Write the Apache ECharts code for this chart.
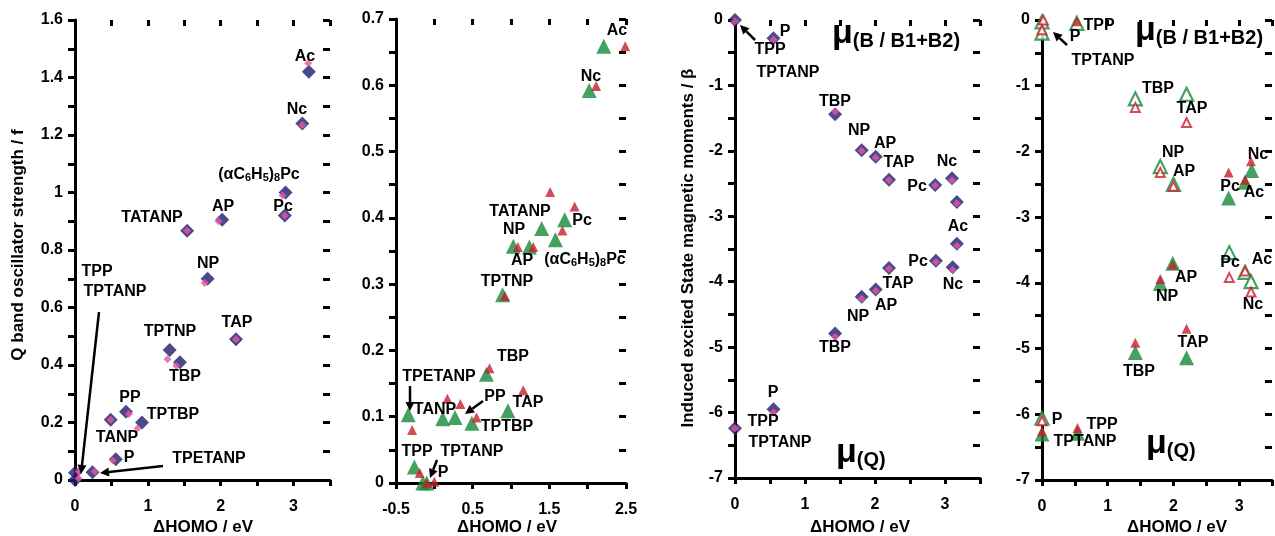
<!DOCTYPE html>
<html><head><meta charset="utf-8">
<script src="https://cdn.jsdelivr.net/npm/echarts@6/dist/echarts.min.js"></script>
<style>html,body{margin:0;padding:0;background:#fff}#c{width:1275px;height:536px}#d{position:absolute;left:340px;top:300px;width:600px;font:10px monospace;background:rgba(255,255,200,0.9);white-space:pre-wrap;word-break:break-all}</style>
</head><body><div id="c"></div><div id="d"></div>
<script>
// ---------- data ----------
const p1Navy = [[0.00,0.025],[0.00,0.0],[0.24,0.027],[0.56,0.072],[0.49,0.21],[0.70,0.237],[0.92,0.20],[1.44,0.41],[1.30,0.452],[2.21,0.49],[1.82,0.70],[1.54,0.867],[2.02,0.905],[2.88,0.92],[2.89,1.0],[3.12,1.24],[3.21,1.42]];
const p1Pink = [[0.05,0.03],[0.05,0.005],[0.27,0.03],[0.52,0.068],[0.49,0.21],[0.74,0.23],[0.86,0.18],[1.39,0.397],[1.27,0.42],[2.21,0.49],[1.78,0.685],[1.54,0.867],[1.97,0.90],[2.88,0.92],[2.85,0.99],[3.12,1.235],[3.20,1.45]];
const p2Green = [[2.21,0.659],[2.02,0.592],[1.70,0.397],[1.40,0.384],[1.58,0.367],[1.03,0.357],[1.24,0.356],[0.89,0.284],[0.68,0.164],[0.96,0.109],[0.11,0.097],[0.27,0.099],[0.49,0.09],[-0.34,0.103],[-0.26,0.024],[-0.15,0.0],[-0.10,0.0]];
const p2Red = [[2.49,0.659],[2.11,0.599],[1.51,0.439],[1.83,0.417],[1.67,0.381],[1.09,0.356],[1.29,0.356],[0.92,0.282],[0.72,0.173],[1.16,0.140],[0.17,0.127],[0.34,0.119],[0.55,0.099],[-0.29,0.080],[-0.19,0.015],[-0.10,0.0],[0.0,0.002]];
const p3Navy = [[0,0],[0.55,-0.28],[1.43,-1.44],[1.81,-1.99],[2.01,-2.09],[2.20,-2.44],[2.86,-2.52],[3.10,-2.42],[3.17,-2.78],[3.17,-3.42],[0,-6.24],[0.55,-5.95],[1.43,-4.79],[1.81,-4.23],[2.01,-4.12],[2.20,-3.79],[2.87,-3.68],[3.11,-3.78]];
const p3Pink = [[0,-0.02],[0.55,-0.30],[1.43,-1.40],[1.81,-2.0],[2.01,-2.1],[2.20,-2.45],[2.86,-2.53],[3.10,-2.45],[3.17,-2.8],[3.17,-3.45],[0,-6.24],[0.55,-6.0],[1.43,-4.84],[1.81,-4.26],[2.01,-4.14],[2.20,-3.8],[2.87,-3.7],[3.11,-3.82]];
const p4GreenHollow = [[0,-0.03],[0,-0.2],[0.53,-0.05],[1.42,-1.2],[2.2,-1.13],[1.8,-2.23],[2.0,-2.5],[2.85,-3.54],[3.09,-3.84],[3.18,-3.98],[0,-6.06]];
const p4RedHollow = [[0.02,0.0],[0,-0.15],[1.42,-1.33],[2.2,-1.56],[1.8,-2.32],[2.0,-2.53],[2.85,-3.92],[3.09,-3.82],[3.18,-4.14],[0.0,-6.1]];
const p4GreenFilled = [[3.19,-2.29],[3.09,-2.47],[2.84,-2.71],[1.99,-3.70],[1.8,-4.01],[2.2,-5.14],[1.42,-5.06],[0.0,-6.3],[0.54,-6.29]];
const p4RedFilled = [[0.53,-0.02],[2.84,-2.32],[3.18,-2.15],[3.09,-2.43],[1.99,-3.72],[1.8,-3.94],[2.2,-4.7],[1.42,-4.91],[0.0,-6.26],[0.54,-6.21]];

const p1XLabels = [0,1,2,3];
const p1YLabels = [0,0.2,0.4,0.6,0.8,1,1.2,1.4,1.6];
const p2XLabels = [-0.5,0.5,1.5,2.5];
const p2YLabels = [0,0.1,0.2,0.3,0.4,0.5,0.6,0.7];
const p34XLabels = [0,1,2,3];
const p34YLabels = [0,-1,-2,-3,-4,-5,-6,-7];

const xTitle = 'ΔHOMO / eV';
const yTitle1 = 'Q band oscillator strength / f';
const yTitle3 = 'Induced excited State magnetic moments / β';

const ann1 = [['Ac',305,57],['Nc',297,110],['AP',223,207],['Pc',283,207],['TATANP',152,218],['NP',208,264],['TPP',97,272],['TPTANP',115,292],['TAP',237,323],['TPTNP',170,332],['TBP',185,377],['PP',130,398],['TPTBP',173,415],['TANP',117,438],['P',129,458],['TPETANP',209,459]];
const ann2 = [['Ac',617,31],['Nc',591,77],['TATANP',520,212],['Pc',582,221],['NP',514,230],['AP',522,261],['TPTNP',507,282],['TBP',513,357],['TPETANP',439,377],['TANP',435,410],['PP',495,397],['TAP',528,403],['TPTBP',507,427],['TPP',417,452],['TPTANP',472,452],['P',443,473]];
const ann3 = [['P',785,32],['TPP',770,50],['TPTANP',788,73],['TBP',835,102],['NP',859,131],['AP',885,144],['TAP',899,163],['Nc',947,162],['Pc',917,187],['Ac',958,227],['Pc',918,262],['TAP',898,284],['Nc',953,285],['AP',886,306],['NP',858,317],['TBP',835,348],['P',773,393],['TPP',763,422],['TPTANP',780,443]];
const ann4 = [['TPP',1099,26],['P',1075,37],['TPTANP',1103,61],['TBP',1158,89],['TAP',1192,109],['NP',1173,153],['AP',1184,172],['Nc',1258,155],['Pc',1230,187],['Ac',1254,193],['Pc',1230,263],['Ac',1262,260],['AP',1186,278],['NP',1167,297],['Nc',1253,305],['TAP',1193,343],['TBP',1139,372],['P',1057,420],['TPP',1102,425],['TPTANP',1085,442]];
const arrows = [[99,312,81,474],[163,466,100,473],[410,386,410,411],[483,401,465,414],[437,460,430,478],[755,40,740,25],[1067,45,1053,32]];

// ---------- chart ----------
const FONT = '"Liberation Sans", Arial, sans-serif';
const chart = echarts.init(document.getElementById('c'), null, {renderer:'canvas'});
const grids = [
  {left:75, top:20, width:255, height:460},
  {left:396, top:19, width:230, height:464},
  {left:735, top:20, width:245, height:458},
  {left:1042, top:20, width:239, height:460}
];
const fmtLabel = (labels) => (v) => labels.some(l => Math.abs(l - v) < 1e-6) ? String(parseFloat(v.toFixed(2))) : '';
const xAxes = [], yAxes = [];
const axisIdx = [];
function addAxes(g, xmin, xmax, xint, xl, ymin, ymax, yint, yl) {
  axisIdx[g] = [xAxes.length, yAxes.length];
  xAxes.push({type:'value', gridIndex:g, min:xmin, max:xmax, interval:xint, splitLine:{show:false},
    axisLine:{show:true, onZero:false, lineStyle:{color:'#000', width:3}},
    axisTick:{show:true, length:6, lineStyle:{color:'#000', width:3}},
    axisLabel:{margin:19, color:'#000', fontWeight:'bold', fontSize:16, fontFamily:FONT, formatter:fmtLabel(xl)}});
  yAxes.push({type:'value', gridIndex:g, min:ymin, max:ymax, interval:yint, splitLine:{show:false},
    axisLine:{show:true, onZero:false, lineStyle:{color:'#000', width:3}},
    axisTick:{show:true, length:7, lineStyle:{color:'#000', width:3}},
    axisLabel:{margin:12, color:'#000', fontWeight:'bold', fontSize:16, fontFamily:FONT, formatter:fmtLabel(yl)}});
  // inner half of the crossing ticks
  xAxes.push({type:'value', gridIndex:g, min:xmin, max:xmax, interval:xint, splitLine:{show:false},
    axisLine:{show:false, onZero:false}, axisLabel:{show:false},
    axisTick:{show:true, inside:true, length:6, lineStyle:{color:'#000', width:3}}});
  yAxes.push({type:'value', gridIndex:g, min:ymin, max:ymax, interval:yint, splitLine:{show:false},
    axisLine:{show:false, onZero:false}, axisLabel:{show:false},
    axisTick:{show:true, inside:true, length:7, lineStyle:{color:'#000', width:3}}});
}
addAxes(0, 0, 3.5, 0.5, p1XLabels, 0, 1.6, 0.1, p1YLabels);
addAxes(1, -0.5, 2.5, 0.5, p2XLabels, 0, 0.7, 0.05, p2YLabels);
addAxes(2, 0, 3.5, 0.5, p34XLabels, -7, 0, 0.5, p34YLabels);
addAxes(3, 0, 3.5, 0.5, p34XLabels, -7, 0, 0.5, p34YLabels);

const NAVY = '#1f1c6e', PINK = '#e4579f', GREEN = '#17893a', RED = '#c81e2a';
function sc(g, data, symbol, size, style) {
  return {type:'scatter', xAxisIndex:axisIdx[g][0], yAxisIndex:axisIdx[g][1], data, symbol, symbolSize:size, itemStyle:style};
}
const series = [
  sc(0, p1Navy, 'diamond', 14, {color:NAVY}),
  sc(0, p1Pink, 'diamond', 8, {color:PINK}),
  sc(1, p2Green, 'triangle', 15, {color:GREEN}),
  sc(1, p2Red, 'triangle', 10, {color:RED}),
  sc(2, p3Navy, 'diamond', 14, {color:NAVY}),
  sc(2, p3Pink, 'diamond', 8, {color:PINK}),
  sc(3, p4GreenHollow, 'triangle', 13, {color:'#fff', borderColor:GREEN, borderWidth:2.2}),
  sc(3, p4GreenFilled, 'triangle', 15, {color:GREEN}),
  sc(3, p4RedHollow, 'triangle', 9, {color:'#fff', borderColor:RED, borderWidth:2}),
  sc(3, p4RedFilled, 'triangle', 10, {color:RED})
];

const graphics = [];
const labelFont = 'bold 16px ' + FONT;
function txt(t, x, y, font) {
  graphics.push({type:'text', x, y, z:10,
    style:{text:t, font:font||labelFont, fill:'#000', align:'center', verticalAlign:'middle'}});
}
[ann1, ann2, ann3, ann4].forEach(a => a.forEach(([t,x,y]) => txt(t,x,y)));
function richPc(x, y) {
  graphics.push({type:'text', x, y, z:10, style:{
    text:'{a|(αC}{s|6}{a|H}{s|5}{a|)}{s|8}{a|Pc}', align:'center', verticalAlign:'middle',
    rich:{a:{font:labelFont, fill:'#000', verticalAlign:'bottom', lineHeight:20},
          s:{font:'bold 11px ' + FONT, fill:'#000', verticalAlign:'bottom', lineHeight:16}}}});
}
richPc(259, 173);
richPc(585, 258);
function mu(x, y, sub) {
  graphics.push({type:'text', x, y, z:10, style:{
    text:'{m|μ}{s|' + sub + '}', align:'left', verticalAlign:'middle',
    rich:{m:{font:'bold 34px ' + FONT, fill:'#000', verticalAlign:'bottom', lineHeight:36},
          s:{font:'bold 20px ' + FONT, fill:'#000', verticalAlign:'bottom', lineHeight:26}}}});
}
mu(832, 33, '(B / B1+B2)');
mu(836, 452, '(Q)');
mu(1135, 30, '(B / B1+B2)');
mu(1146, 443, '(Q)');
const titleFont = 'bold 17px ' + FONT;
txt(xTitle, 203, 527, titleFont);
txt(xTitle, 507, 527, titleFont);
txt(xTitle, 860, 527, titleFont);
txt(xTitle, 1177, 527, titleFont);
graphics.push({type:'text', x:18, y:245, rotation:Math.PI/2,
  style:{text:yTitle1, font:titleFont, fill:'#000', align:'center', verticalAlign:'middle'}});
graphics.push({type:'text', x:688, y:248, rotation:Math.PI/2,
  style:{text:yTitle3, font:titleFont, fill:'#000', align:'center', verticalAlign:'middle'}});
arrows.forEach(([x1,y1,x2,y2]) => {
  const a = Math.atan2(y2-y1, x2-x1), L = 9, W = 4.5;
  const bx = x2 - L*Math.cos(a), by = y2 - L*Math.sin(a);
  graphics.push({type:'line', z:9, shape:{x1, y1, x2:bx, y2:by}, style:{stroke:'#000', lineWidth:2.5}});
  graphics.push({type:'polygon', z:9, shape:{points:[[x2,y2],[bx + W*Math.sin(a), by - W*Math.cos(a)],[bx - W*Math.sin(a), by + W*Math.cos(a)]]}, style:{fill:'#000'}});
});

chart.setOption({
  animation:false,
  grid: grids,
  xAxis: xAxes,
  yAxis: yAxes,
  series,
  graphic: graphics
});
// diagnostics only if axis lines are missing
try {
  const list = chart.getZr().storage.getDisplayList(true);
  const axisLines = list.filter(el => el.type === 'line' && el.shape && Math.abs(el.shape.x1 - el.shape.x2) > 100);
  if (axisLines.length === 0) {
    const counts = {};
    list.forEach(el => { counts[el.type] = (counts[el.type]||0)+1; });
    const lines = list.filter(el => el.type === 'line').slice(0,5).map(el => JSON.stringify(el.shape));
    document.getElementById('d').textContent = 'NO AXIS LINES\n' + JSON.stringify(counts) + '\n' + lines.join('\n') + '\n' + JSON.stringify(chart.getModel().getComponent('xAxis',0).get('axisLine'));
  }
} catch(e) { document.getElementById('d').textContent = 'ERR ' + e.message; }
</script>
</body></html>
